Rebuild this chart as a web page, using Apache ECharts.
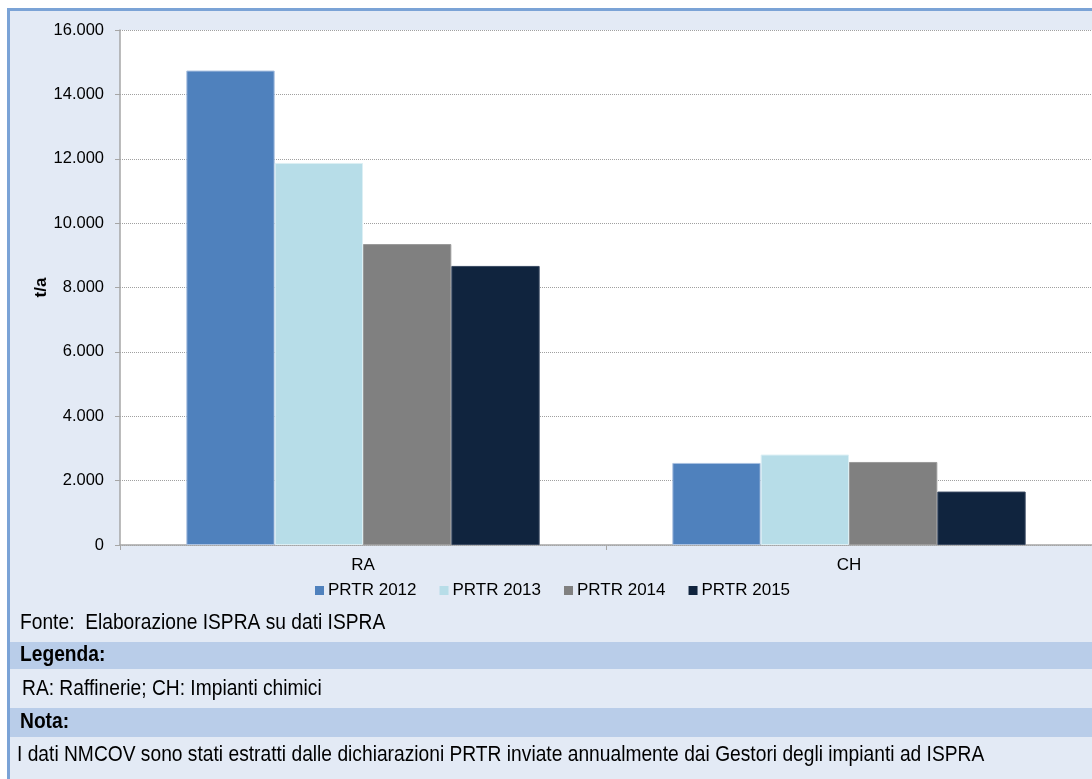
<!DOCTYPE html>
<html>
<head>
<meta charset="utf-8">
<script src="https://cdn.jsdelivr.net/npm/echarts@6/dist/echarts.min.js"></script>
<style>
  html, body { margin: 0; padding: 0; background: #ffffff; }
  #chart { width: 1092px; height: 779px; }
</style>
</head>
<body>
<div id="chart"></div>
<script>
// NMCOV emissions (t/a) by sector, PRTR declarations 2012-2015
const categories = ['RA', 'CH'];
const seriesNames = ['PRTR 2012', 'PRTR 2013', 'PRTR 2014', 'PRTR 2015'];
const prtr2012 = [14740, 2550];
const prtr2013 = [11870, 2810];
const prtr2014 = [9350, 2580];
const prtr2015 = [8670, 1660];
const yTicks = [0, 2000, 4000, 6000, 8000, 10000, 12000, 14000, 16000];

const colors = ['#4F81BD', '#B7DDE8', '#808080', '#10243E'];
const edgeColors = ['#A9C0E0', '#DCEFF4', '#9A9A9A', '#3A4A62'];
const values = [prtr2012, prtr2013, prtr2014, prtr2015];

const panelBg = '#E3EAF5';
const bandBg = '#B9CDE9';
const textFont = 'Liberation Sans, Arial, sans-serif';

function itNumber(v) {
  return String(v).replace(/\B(?=(\d{3})+(?!\d))/g, '.');
}

const chart = echarts.init(document.getElementById('chart'), null, { renderer: 'canvas' });

const noteLines = [
  { text: 'Fonte:  Elaborazione ISPRA su dati ISPRA', x: 20, y: 623, bold: false },
  { text: 'Legenda:', x: 20, y: 655, bold: true },
  { text: 'RA: Raffinerie; CH: Impianti chimici', x: 22, y: 689, bold: false },
  { text: 'Nota:', x: 20, y: 722, bold: true },
  { text: 'I dati NMCOV sono stati estratti dalle dichiarazioni PRTR inviate annualmente dai Gestori degli impianti ad ISPRA', x: 17, y: 755, bold: false }
];

const graphics = [
  // panel background and frame
  { type: 'rect', z: -100, silent: true, shape: { x: 7, y: 8, width: 1092, height: 779 }, style: { fill: panelBg } },
  { type: 'rect', z: -99, silent: true, shape: { x: 7, y: 8, width: 1092, height: 3 }, style: { fill: '#7BA3D6' } },
  { type: 'rect', z: -99, silent: true, shape: { x: 7, y: 8, width: 3, height: 779 }, style: { fill: '#7BA3D6' } },
  // header bands for the notes
  { type: 'rect', z: -98, silent: true, shape: { x: 10, y: 642, width: 1082, height: 27 }, style: { fill: bandBg } },
  { type: 'rect', z: -98, silent: true, shape: { x: 10, y: 708, width: 1082, height: 29 }, style: { fill: bandBg } }
];
noteLines.forEach(function (l) {
  graphics.push({
    type: 'text', silent: true, x: l.x, y: l.y, scaleX: 0.915, scaleY: 1.04,
    style: {
      text: l.text, fill: '#000000',
      font: (l.bold ? 'bold ' : '') + '21px ' + textFont,
      textAlign: 'left', textVerticalAlign: 'middle'
    }
  });
});

const option = {
  animation: false,
  backgroundColor: 'transparent',
  textStyle: { fontFamily: textFont },
  color: colors,
  grid: {
    left: 120, top: 30, right: -2, bottom: 234,
    show: true, backgroundColor: '#ffffff', borderWidth: 0
  },
  legend: {
    data: seriesNames,
    left: 310, top: 577,
    icon: 'rect', itemWidth: 9, itemHeight: 9, itemGap: 23,
    itemStyle: { borderWidth: 0 },
    textStyle: { fontSize: 17, color: '#000000', padding: [0, 0, 0, -1] }
  },
  xAxis: {
    type: 'category',
    data: categories,
    axisLine: { show: true, lineStyle: { color: '#A6A6A6', width: 1.5 } },
    axisTick: { show: true, length: 5, lineStyle: { color: '#A6A6A6' } },
    axisLabel: { fontSize: 17, color: '#000000', margin: 12 },
    splitLine: { show: false }
  },
  yAxis: {
    type: 'value',
    min: 0, max: 16000, interval: 2000,
    name: 't/a',
    nameLocation: 'middle',
    nameGap: 70,
    nameMoveOverlap: false,
    nameRotate: 90,
    nameTextStyle: { fontSize: 17, fontWeight: 'bold', color: '#000000' },
    axisLine: { show: true, lineStyle: { color: '#A6A6A6', width: 1.5 } },
    axisTick: { show: true, length: 5, lineStyle: { color: '#A6A6A6' } },
    axisLabel: {
      fontSize: 16.5, color: '#000000', margin: 16,
      formatter: function (v) { return yTicks.indexOf(v) >= 0 ? itNumber(v) : ''; }
    },
    splitLine: { show: true, lineStyle: { color: '#A0A0A0', type: 'dotted', width: 1 } }
  },
  series: seriesNames.map(function (name, i) {
    return {
      name: name,
      type: 'bar',
      data: values[i],
      barGap: '0%',
      barCategoryGap: '27.3%',
      itemStyle: { color: colors[i], borderColor: edgeColors[i], borderWidth: 1 }
    };
  }),
  graphic: graphics
};

chart.setOption(option);
</script>
</body>
</html>
